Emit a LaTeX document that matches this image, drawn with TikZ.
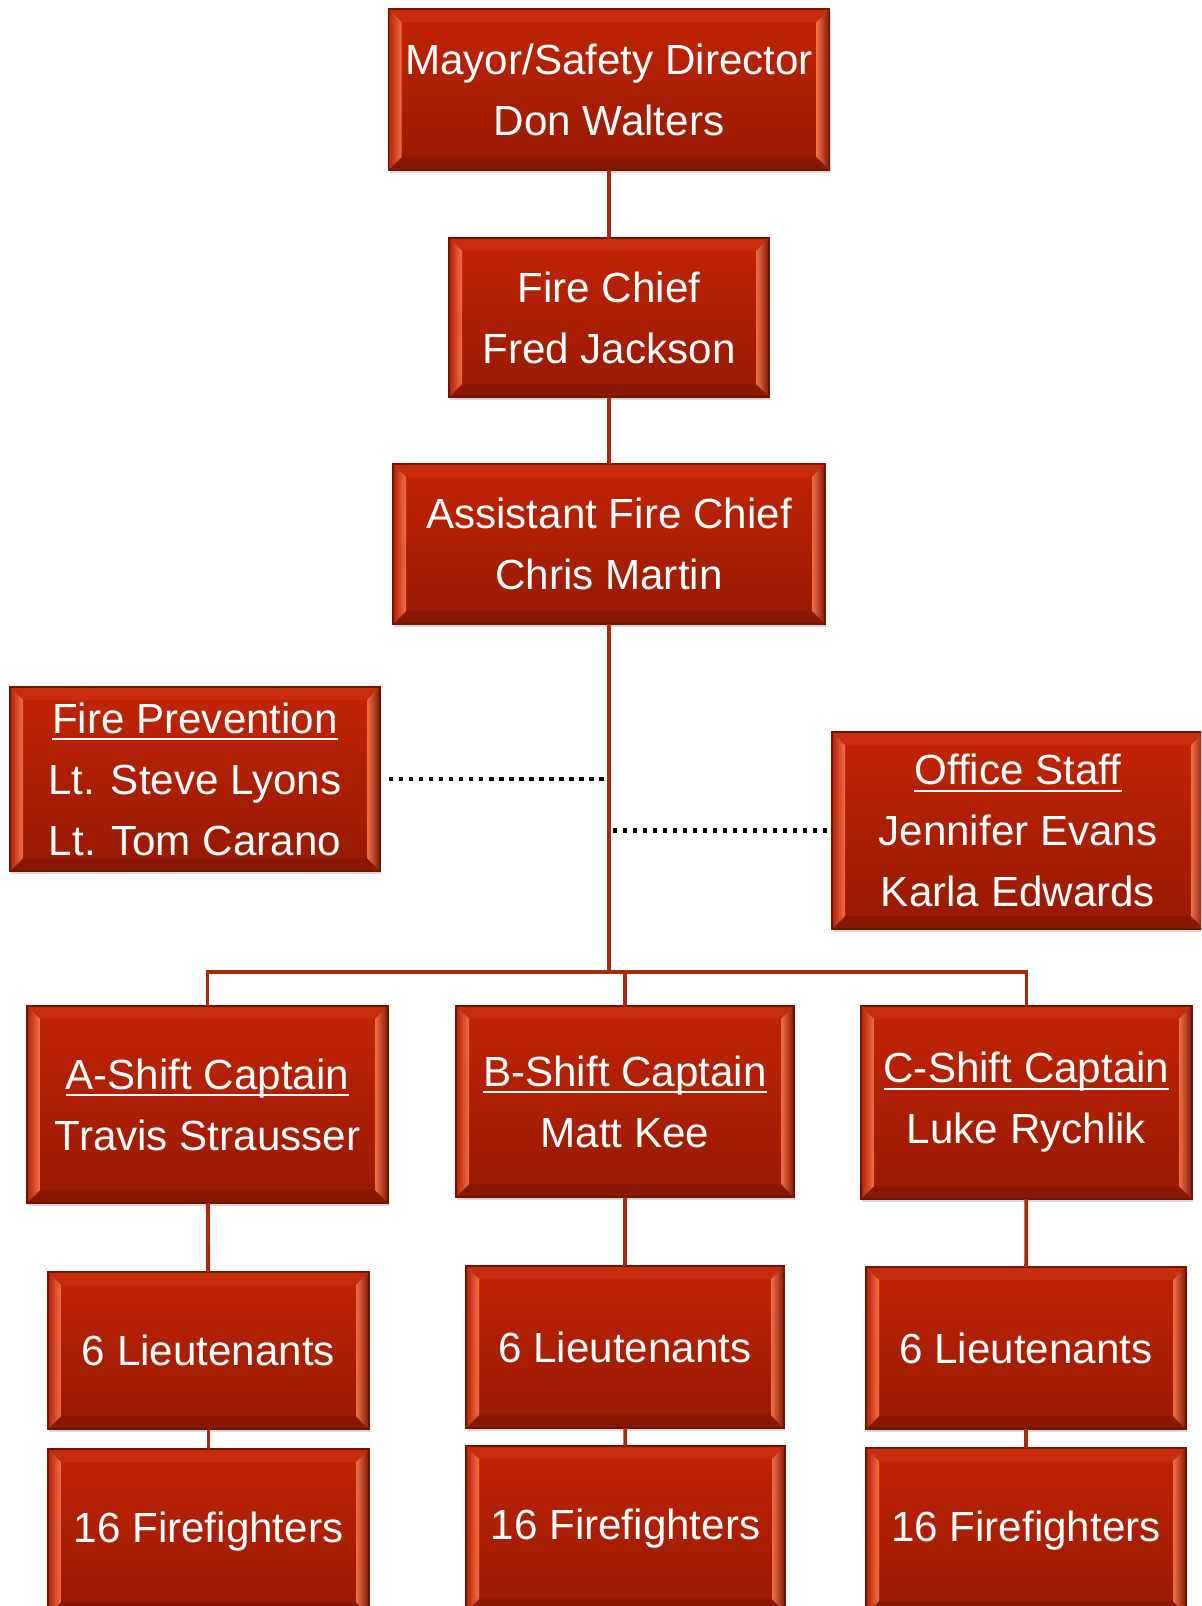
\documentclass[tikz,border=0pt]{standalone}
\usepackage{fontspec}
\setmainfont{Liberation Sans}
\usepackage{tikz}
\usetikzlibrary{positioning, shadows, calc}
\definecolor{boxtop}{RGB}{194,36,6}
\definecolor{boxbottom}{RGB}{150,26,3}
\definecolor{boxedge}{RGB}{112,20,2}
\definecolor{bevellight}{RGB}{242,112,72}
\definecolor{beveltop}{RGB}{206,52,20}
\definecolor{bevelbottom}{RGB}{118,20,2}
\definecolor{linkred}{RGB}{168,42,12}
\newcommand{\headline}[1]{\leavevmode\vtop{\setbox0\hbox{#1}\dp0=0pt\box0\kern3pt\hrule height 1pt}}

\begin{document}
\begin{tikzpicture}[
    x=0.02cm, y=-0.02cm,
    wh/.style 2 args={minimum width=#1*0.02cm, minimum height=#2*0.02cm},
    rank/.style={rectangle, draw=boxedge, line width=0.6pt, top color=boxtop, bottom color=boxbottom,
        text=white, align=center, inner sep=0pt, outer sep=0pt, font=\fontsize{24}{34.7}\selectfont,
        drop shadow={shadow xshift=0.8pt, shadow yshift=-1.8pt, opacity=0.3},
        path picture={
            \path (path picture bounding box.north west) coordinate (bnw)
                  (path picture bounding box.north east) coordinate (bne)
                  (path picture bounding box.south west) coordinate (bsw)
                  (path picture bounding box.south east) coordinate (bse);
            \fill[beveltop, opacity=0.5] (bnw) -- (bne) -- ([shift={(-0.26cm,-0.26cm)}]bne) -- ([shift={(0.26cm,-0.26cm)}]bnw) -- cycle;
            \fill[bevelbottom, opacity=0.45] (bsw) -- (bse) -- ([shift={(-0.26cm,0.26cm)}]bse) -- ([shift={(0.26cm,0.26cm)}]bsw) -- cycle;
            \shade[left color=boxtop!80!bevelbottom, right color=bevellight] (bnw) -- (bsw) -- ([shift={(0.26cm,0.26cm)}]bsw) -- ([shift={(0.26cm,-0.26cm)}]bnw) -- cycle;
            \shade[left color=bevellight, right color=boxbottom!85!black] (bne) -- (bse) -- ([shift={(-0.26cm,0.26cm)}]bse) -- ([shift={(-0.26cm,-0.26cm)}]bne) -- cycle;
        }},
    link/.style={draw=linkred, line width=2.2pt},
    dotline/.style={draw=black, line width=2.4pt, dash pattern=on 2.6pt off 3.1pt}
]
    \clip (0,0) rectangle (1201,1606);

    \node[rank, wh={441}{161}] (mayor) at (609,89.5) {Mayor/Safety Director\\Don Walters};
    \node[rank, wh={320}{159}] (chief) at (609,317.5) {Fire Chief\\Fred Jackson};
    \node[rank, wh={432}{160}] (asst) at (609,544) {Assistant Fire Chief\\Chris Martin};

    \node[rank, wh={370}{184}] (prev) at (195,779) {\headline{Fire Prevention}\\Lt. Steve Lyons\\Lt. Tom Carano};
    \node[rank, wh={372}{197}] (office) at (1018,830.5) {\headline{Office Staff}\\Jennifer Evans\\Karla Edwards};

    \node[rank, wh={361}{197}] (capa) at (207.5,1104.5) {\headline{A-Shift Captain}\\Travis Strausser};
    \node[rank, wh={338}{191}] (capb) at (625,1101.5) {\headline{B-Shift Captain}\\Matt Kee};
    \node[rank, wh={331}{193}] (capc) at (1026.5,1102.5) {\headline{C-Shift Captain}\\Luke Rychlik};

    \node[rank, wh={321}{157}] (lta) at (208.5,1350.5) {6 Lieutenants};
    \node[rank, wh={318}{162}] (ltb) at (625,1347) {6 Lieutenants};
    \node[rank, wh={320}{162}] (ltc) at (1026,1348) {6 Lieutenants};

    \node[rank, wh={321}{166}] (ffa) at (208.5,1532) {16 Firefighters};
    \node[rank, wh={319}{166}] (ffb) at (625.5,1529) {16 Firefighters};
    \node[rank, wh={320}{166}] (ffc) at (1026,1531) {16 Firefighters};

    \coordinate (bus) at (609,972);

    \draw[link] (mayor) -- (chief);
    \draw[link] (chief) -- (asst);
    \draw[link] (asst) -- (bus);
    \draw[link] (capa) |- (bus) -| (capc);
    \draw[link] (capb) -- (capb |- bus);
    \draw[link] (capa) -- (lta);
    \draw[link] (capb) -- (ltb);
    \draw[link] (capc) -- (ltc);
    \draw[link] (lta) -- (ffa);
    \draw[link] (ltb) -- (ffb);
    \draw[link] (ltc) -- (ffc);

    \draw[dotline, shorten >=2pt] ([xshift=5pt]prev.east) -- (prev.east -| asst.south);
    \draw[dotline, shorten <=2pt] (office.west -| asst.south) -- (office.west);
\end{tikzpicture}
\end{document}
